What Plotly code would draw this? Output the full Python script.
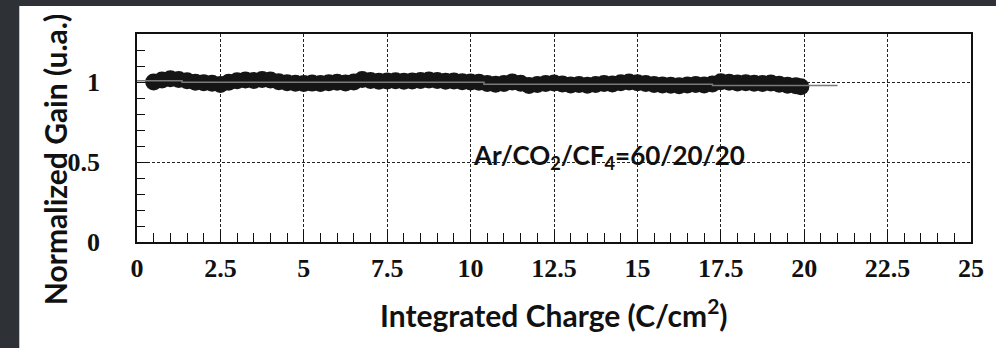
import plotly.graph_objects as go

# ---- data ----
charge = [0.50, 0.75, 1.00, 1.25, 1.50, 1.75, 2.00, 2.25, 2.50, 2.75,
          3.00, 3.25, 3.50, 3.75, 4.00, 4.25, 4.50, 4.75, 5.00, 5.25,
          5.50, 5.75, 6.00, 6.25, 6.50, 6.75, 7.00, 7.25, 7.50, 7.75,
          8.00, 8.25, 8.50, 8.75, 9.00, 9.25, 9.50, 9.75, 10.00, 10.25,
          10.50, 10.75, 11.00, 11.25, 11.50, 11.75, 12.00, 12.25, 12.50, 12.75,
          13.00, 13.25, 13.50, 13.75, 14.00, 14.25, 14.50, 14.75, 15.00, 15.25,
          15.50, 15.75, 16.00, 16.25, 16.50, 16.75, 17.00, 17.25, 17.50, 17.75,
          18.00, 18.25, 18.50, 18.75, 19.00, 19.25, 19.50, 19.75, 19.90]
gain = [1.000, 1.012, 1.020, 1.015, 1.008, 0.998, 0.995, 0.992, 0.985, 0.998,
        1.008, 1.012, 1.010, 1.015, 1.012, 1.002, 0.996, 0.992, 0.990, 0.993,
        0.990, 0.995, 0.998, 0.994, 1.000, 1.016, 1.010, 1.004, 1.006, 1.008,
        1.004, 1.006, 1.010, 1.012, 1.010, 1.004, 1.006, 1.002, 1.000, 0.998,
        0.990, 0.986, 0.990, 1.000, 0.992, 0.978, 0.985, 0.990, 0.994, 0.988,
        0.982, 0.985, 0.980, 0.984, 0.990, 0.988, 0.995, 1.000, 0.996, 0.990,
        0.985, 0.982, 0.980, 0.976, 0.982, 0.985, 0.982, 0.988, 1.002, 0.998,
        0.994, 0.996, 0.992, 0.990, 0.994, 0.986, 0.980, 0.976, 0.970]
fit_x = [0.0, 1.35, 10.4, 17.25, 21.0]
fit_y = [1.008, 0.998, 0.986, 0.978, 0.978]

x_ticks = [0, 2.5, 5, 7.5, 10, 12.5, 15, 17.5, 20, 22.5, 25]
x_labels = ["0", "2.5", "5", "7.5", "10", "12.5", "15", "17.5", "20", "22.5", "25"]
y_ticks = [0, 0.5, 1]
y_labels = ["0", "0.5", "1"]

W, H = 996, 348
L, R, T, B = 137, 23, 34, 106
pw, ph = W - L - R, H - T - B

def px_x(px):
    return (px - L) / pw

def px_y(py):
    return (H - B - py) / ph

fig = go.Figure()
fig.add_trace(go.Scatter(x=charge, y=gain, mode="markers",
                         marker=dict(size=17, color="#151515", line=dict(width=0)),
                         showlegend=False))
fig.add_trace(go.Scatter(x=fit_x, y=fit_y, mode="lines", line_shape="hv",
                         line=dict(color="#7a7a7a", width=1.5), showlegend=False))

tickfont = dict(family="Liberation Serif", size=26, color="#111", weight="bold")
fig.update_xaxes(range=[0, 25], tickvals=x_ticks, ticktext=x_labels,
                 showgrid=True, gridcolor="#222", griddash="3px,2px", gridwidth=1,
                 showline=True, linecolor="#111", linewidth=1.5, mirror=True,
                 ticks="inside", ticklen=12, tickcolor="#111", tickwidth=1,
                 minor=dict(dtick=0.5, ticks="inside", ticklen=9, tickcolor="#111", showgrid=False),
                 tickfont=tickfont, ticklabelstandoff=2, zeroline=False)
fig.update_yaxes(range=[0, 1.3], tickvals=y_ticks, ticktext=y_labels,
                 showgrid=True, gridcolor="#222", griddash="3px,2px", gridwidth=1,
                 showline=True, linecolor="#111", linewidth=1.5, mirror=True,
                 ticks="inside", ticklen=12, tickcolor="#111", tickwidth=1,
                 minor=dict(dtick=0.1, ticks="inside", ticklen=8, tickcolor="#111", showgrid=False),
                 tickfont=tickfont, ticklabelstandoff=30, zeroline=False)

title_font = dict(family="Lato", size=30, color="#111", weight="bold")
fig.add_annotation(text="Integrated Charge (C/cm<sup>2</sup>)", xref="paper", yref="paper",
                   x=px_x(555), y=px_y(313), showarrow=False, font=title_font,
                   xanchor="center", yanchor="middle")
fig.add_annotation(text="Normalized Gain (u.a.)", xref="paper", yref="paper",
                   x=px_x(55), y=px_y(160), showarrow=False, font=title_font,
                   textangle=-90, xanchor="center", yanchor="middle")
fig.add_annotation(text="Ar/CO<sub>2</sub>/CF<sub>4</sub>=60/20/20", xref="x", yref="y",
                   x=10.0, y=0.535, showarrow=False, xanchor="left", yanchor="middle",
                   font=dict(family="Lato", size=26, color="#111", weight="bold"))

# white page on dark surround
fig.add_shape(type="rect", xref="paper", yref="paper",
              x0=px_x(19), x1=px_x(1000), y0=px_y(352), y1=px_y(6),
              fillcolor="white", line=dict(width=0), layer="below")

fig.update_layout(width=W, height=H, margin=dict(l=L, r=R, t=T, b=B),
                  paper_bgcolor="#2e3136", plot_bgcolor="white")

fig.write_html("out.html")
